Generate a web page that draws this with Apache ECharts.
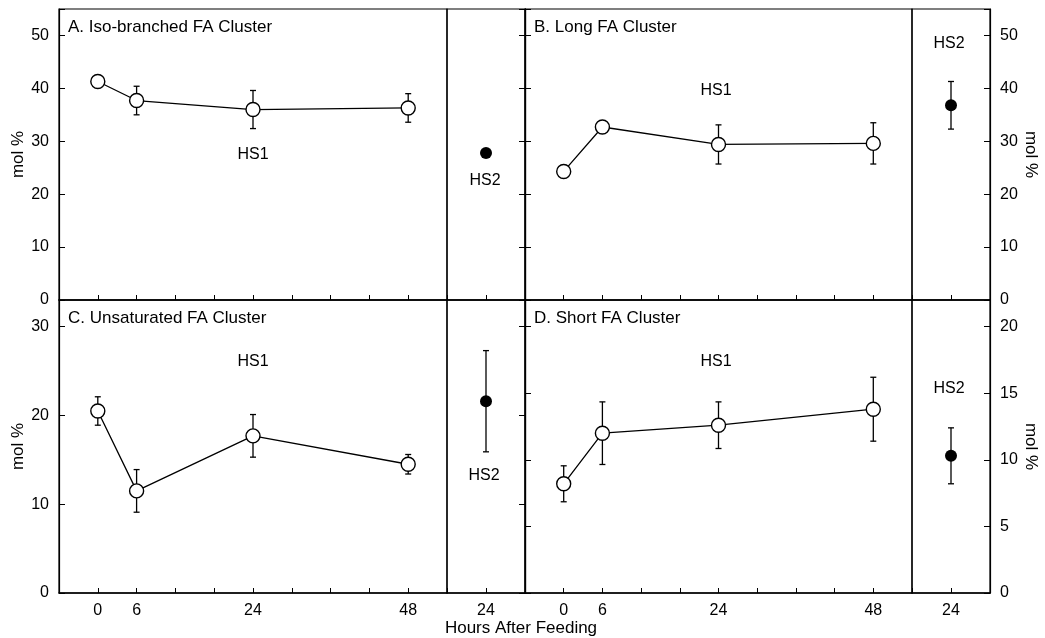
<!DOCTYPE html>
<html>
<head>
<meta charset="utf-8">
<script src="https://cdn.jsdelivr.net/npm/echarts@6/dist/echarts.min.js"></script>
<style>
  html, body { margin: 0; padding: 0; background: #fff; }
  #chart { width: 1045px; height: 638px; }
</style>
</head>
<body>
<div id="chart"></div>
<script>
// sampling times (hours after feeding); HS2 was only sampled at 24 h
var hours = [0, 6, 24, 48];
var hourLabels = [0, 6, 24, 48];
var hs2Hour = 24;

// A. Iso-branched FA cluster (mol %), mean and +/- error
var isoMean = [41.3, 37.7, 36.0, 36.3];
var isoErr = [0, 2.7, 3.6, 2.7];
var isoHS2 = [27.8, 0];

// B. Long FA cluster
var longMean = [24.3, 32.7, 29.4, 29.6];
var longErr = [0, 0, 3.7, 3.9];
var longHS2 = [36.8, 4.5];

// C. Unsaturated FA cluster
var unsatMean = [20.5, 11.5, 17.7, 14.5];
var unsatErr = [1.6, 2.4, 2.4, 1.1];
var unsatHS2 = [21.6, 5.7];

// D. Short FA cluster
var shortMean = [8.2, 12.0, 12.6, 13.8];
var shortErr = [1.35, 2.35, 1.75, 2.4];
var shortHS2 = [10.3, 2.1];

var FONT = 'Liberation Sans';
var FS = 16;   // tick labels, HS1/HS2
var FS_T = 17; // panel titles, axis names

var panels = [
    { title: 'A. Iso-branched FA Cluster', mean: isoMean, err: isoErr, hs2: isoHS2,
      max: 55, interval: 10, col: 0, row: 0, labelSide: 'left',
      hs1Text: [253, 155], hs2Text: [485, 181] },
    { title: 'B. Long FA Cluster', mean: longMean, err: longErr, hs2: longHS2,
      max: 55, interval: 10, col: 1, row: 0, labelSide: 'right',
      hs1Text: [716, 91], hs2Text: [949, 44] },
    { title: 'C. Unsaturated FA Cluster', mean: unsatMean, err: unsatErr, hs2: unsatHS2,
      max: 33, interval: 10, col: 0, row: 1, labelSide: 'left',
      hs1Text: [253, 362], hs2Text: [484, 476] },
    { title: 'D. Short FA Cluster', mean: shortMean, err: shortErr, hs2: shortHS2,
      max: 22, interval: 5, col: 1, row: 1, labelSide: 'right',
      hs1Text: [716, 362], hs2Text: [949, 389] }
];

// layout of the frames
var cols = [
    { hs1: [59, 388], hs2: [447, 78] },
    { hs1: [525, 387], hs2: [912, 78] }
];
var rows = [[9, 291], [300, 293]];

var grids = [], xAxes = [], yAxes = [], series = [], texts = [];

function errorBars(data, xi, yi) {
    return {
        type: 'custom',
        xAxisIndex: xi,
        yAxisIndex: yi,
        z: 1,
        silent: true,
        encode: { x: 0, y: 1 },
        data: data,
        renderItem: function (params, api) {
            var e = api.value(2);
            if (!e) return null;
            var x = api.value(0), m = api.value(1);
            var top = api.coord([x, m + e]);
            var bot = api.coord([x, m - e]);
            var st = { stroke: '#000', lineWidth: 1.3 };
            return {
                type: 'group',
                children: [
                    { type: 'line', shape: { x1: top[0], y1: top[1], x2: bot[0], y2: bot[1] }, style: st },
                    { type: 'line', shape: { x1: top[0] - 3, y1: top[1], x2: top[0] + 3, y2: top[1] }, style: st },
                    { type: 'line', shape: { x1: bot[0] - 3, y1: bot[1], x2: bot[0] + 3, y2: bot[1] }, style: st }
                ]
            };
        }
    };
}

function xAxisFor(gi, hs1, bottom) {
    return {
        type: 'value',
        gridIndex: gi,
        min: hs1 ? -6 : 18,
        max: hs1 ? 54 : 30,
        interval: 6,
        axisLine: { show: true, onZero: false, lineStyle: { color: '#000', width: 1.5 } },
        axisTick: { show: true, inside: true, length: 5, lineStyle: { color: '#000' } },
        splitLine: { show: false },
        axisLabel: {
            show: bottom,
            margin: 10,
            color: '#000',
            fontFamily: FONT,
            fontSize: FS,
            formatter: function (v) {
                if (!hs1) return v === hs2Hour ? String(v) : '';
                return hourLabels.indexOf(v) >= 0 ? String(v) : '';
            }
        }
    };
}

function yAxisFor(gi, p, pos, labels) {
    var ax = {
        type: 'value',
        gridIndex: gi,
        position: pos,
        min: 0,
        max: p.max,
        interval: p.interval,
        axisLine: { show: true, onZero: false, lineStyle: { color: '#000', width: 1.2 } },
        axisTick: { show: true, inside: true, length: 6, lineStyle: { color: '#000' } },
        splitLine: { show: false },
        axisLabel: {
            show: labels,
            margin: 10,
            color: '#000',
            fontFamily: FONT,
            fontSize: FS,
            formatter: function (v) { return v > p.max - 1 ? '' : String(v); }
        }
    };
    if (labels) {
        ax.name = 'mol %';
        ax.nameLocation = 'middle';
        ax.nameGap = pos === 'left' ? 30 : 32;
        ax.nameRotate = pos === 'left' ? 90 : -90;
        ax.nameTextStyle = { color: '#000', fontFamily: FONT, fontSize: FS_T };
    }
    return ax;
}

panels.forEach(function (p) {
    var c = cols[p.col], r = rows[p.row];
    var gi = grids.length;
    var bottom = p.row === 1;

    // HS1 frame and HS2 frame
    grids.push({ left: c.hs1[0], width: c.hs1[1], top: r[0], height: r[1],
                 show: true, borderColor: '#000', borderWidth: 1.2, backgroundColor: 'transparent' });
    grids.push({ left: c.hs2[0], width: c.hs2[1], top: r[0], height: r[1],
                 show: true, borderColor: '#000', borderWidth: 1.2, backgroundColor: 'transparent' });

    xAxes.push(xAxisFor(gi, true, bottom));
    xAxes.push(xAxisFor(gi + 1, false, bottom));

    yAxes.push(yAxisFor(gi, p, 'left', p.labelSide === 'left'));
    yAxes.push(yAxisFor(gi + 1, p, 'right', p.labelSide === 'right'));

    var line = [], bars = [];
    for (var i = 0; i < hours.length; i++) {
        line.push([hours[i], p.mean[i]]);
        bars.push([hours[i], p.mean[i], p.err[i]]);
    }

    series.push(errorBars(bars, gi, gi));
    series.push({
        type: 'line',
        xAxisIndex: gi,
        yAxisIndex: gi,
        data: line,
        z: 3,
        symbol: 'circle',
        symbolSize: 14,
        lineStyle: { color: '#000', width: 1.3 },
        itemStyle: { color: '#fff', borderColor: '#000', borderWidth: 1.4, opacity: 1 }
    });

    series.push(errorBars([[hs2Hour, p.hs2[0], p.hs2[1]]], gi + 1, gi + 1));
    series.push({
        type: 'scatter',
        xAxisIndex: gi + 1,
        yAxisIndex: gi + 1,
        data: [[hs2Hour, p.hs2[0]]],
        z: 3,
        symbol: 'circle',
        symbolSize: 12,
        itemStyle: { color: '#000', opacity: 1 }
    });

    texts.push({ type: 'text', left: c.hs1[0] + 9, top: r[0] + 10,
                 style: { text: p.title, fill: '#000', font: FS_T + 'px "' + FONT + '"' } });
    texts.push({ type: 'text', x: p.hs1Text[0], y: p.hs1Text[1],
                 style: { text: 'HS1', fill: '#000', font: FS + 'px "' + FONT + '"',
                          textAlign: 'center', textVerticalAlign: 'middle' } });
    texts.push({ type: 'text', x: p.hs2Text[0], y: p.hs2Text[1],
                 style: { text: 'HS2', fill: '#000', font: FS + 'px "' + FONT + '"',
                          textAlign: 'center', textVerticalAlign: 'middle' } });
});

texts.push({ type: 'text', x: 521, y: 628,
             style: { text: 'Hours After Feeding', fill: '#000', font: FS_T + 'px "' + FONT + '"',
                      textAlign: 'center', textVerticalAlign: 'middle' } });

var myChart = echarts.init(document.getElementById('chart'));
myChart.setOption({
    animation: false,
    backgroundColor: '#fff',
    grid: grids,
    xAxis: xAxes,
    yAxis: yAxes,
    series: series,
    graphic: texts
});
</script>
</body>
</html>
